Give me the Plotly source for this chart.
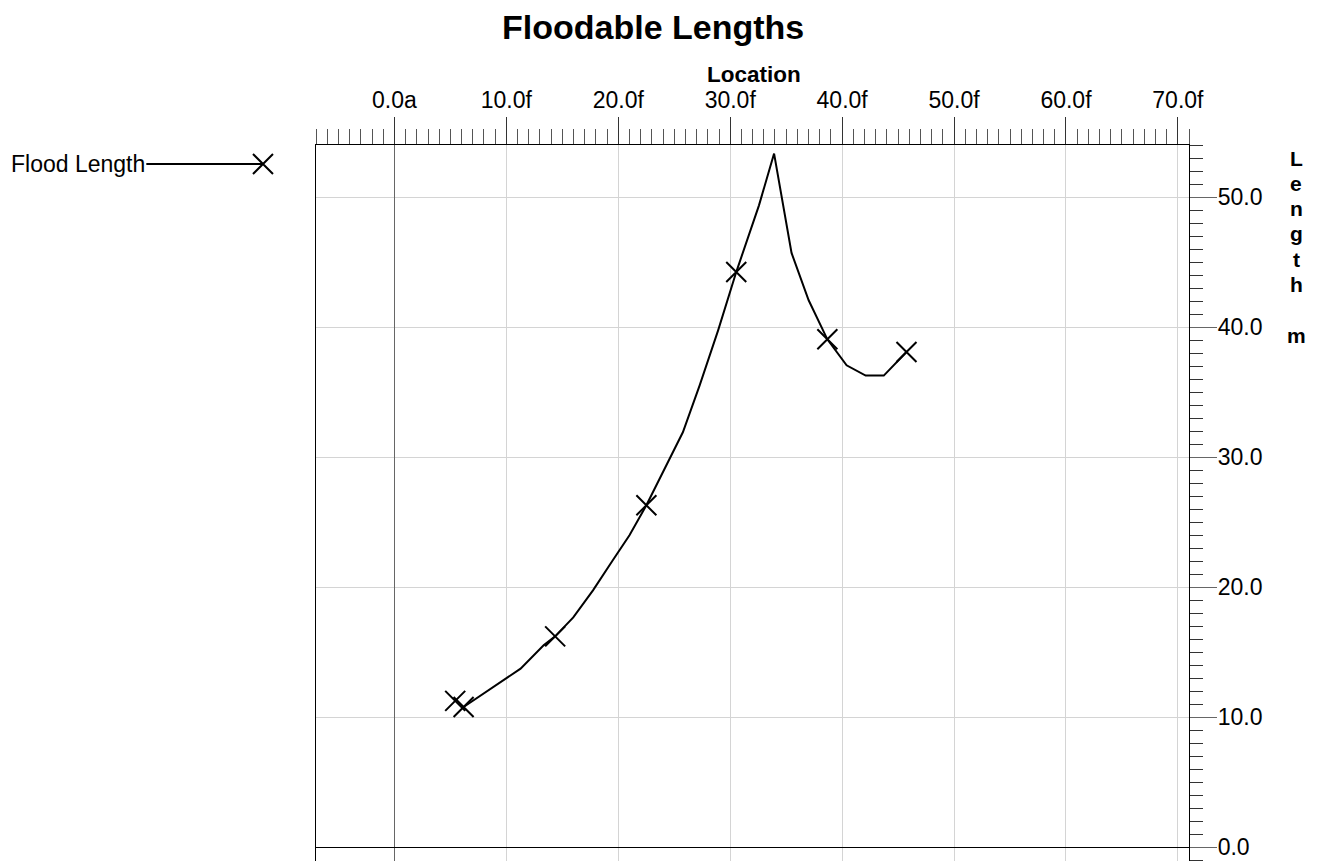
import plotly.graph_objects as go

W, H = 1326, 861

# Floodable length curve: location along the hull vs. floodable length (m)
curve_loc = [6.18, 7.74, 9.95, 11.27, 13.33, 14.36, 15.98, 17.74, 19.51, 21.00,
             22.51, 24.10, 25.77, 27.27, 28.92, 30.54, 32.57, 33.92, 35.48, 37.01,
             38.68, 40.40, 42.10, 43.72, 45.75]
curve_len = [10.79, 11.69, 12.97, 13.74, 15.53, 16.22, 17.68, 19.76, 22.07, 23.99,
             26.30, 28.99, 31.91, 35.52, 39.75, 44.23, 49.36, 53.34, 45.70, 42.06,
             39.06, 37.06, 36.27, 36.27, 38.08]

# Marked stations on the curve
mark_loc = [5.43, 6.18, 14.36, 22.51, 30.54, 38.68, 45.75]
mark_len = [11.26, 10.79, 16.22, 26.30, 44.23, 39.06, 38.08]

# Location axis ticks
loc_ticks = [0, 10, 20, 30, 40, 50, 60, 70]
loc_labels = ["0.0a", "10.0f", "20.0f", "30.0f", "40.0f", "50.0f", "60.0f", "70.0f"]

series_name = "Flood Length"
title_text = "Floodable Lengths"
x_title = "Location"
y_title = "Length"
y_unit = "m"

FONT = "Arial, Liberation Sans, sans-serif"

# plot area in page pixels
PX0, PX1, PY0, PY1 = 319.7, 1202.7, 145.0, 861.0


def px(x):
    return x / W


def py(y):
    return 1 - y / H


fig = go.Figure()

fig.add_trace(go.Scatter(
    x=curve_loc, y=curve_len, mode="lines", name=series_name,
    line=dict(color="black", width=2), showlegend=False, hoverinfo="skip"))

fig.add_trace(go.Scatter(
    x=mark_loc, y=mark_len, mode="markers", name=series_name,
    marker=dict(symbol="x-thin", size=20, line=dict(color="black", width=2)),
    showlegend=False, cliponaxis=False))

# legend key: line with a cross at its right end, drawn on a page-pixel overlay axis
fig.add_trace(go.Scatter(
    x=[148, 266], y=[164, 164], mode="lines", line=dict(color="black", width=2),
    xaxis="x2", yaxis="y2", showlegend=False, hoverinfo="skip"))
fig.add_trace(go.Scatter(
    x=[266], y=[164], mode="markers", xaxis="x2", yaxis="y2",
    marker=dict(symbol="x-thin", size=20, line=dict(color="black", width=2)),
    showlegend=False, cliponaxis=False, hoverinfo="skip"))

annotations = [
    dict(text=f"<b>{title_text}</b>", x=px(660), y=py(27), xref="paper", yref="paper",
         showarrow=False, font=dict(family=FONT, size=34, color="black"),
         xanchor="center", yanchor="middle"),
    dict(text=f"<b>{x_title}</b>", x=px(763), y=py(75), xref="paper", yref="paper",
         showarrow=False, font=dict(family=FONT, size=22.5, color="black"),
         xanchor="center", yanchor="middle"),
    dict(text=series_name, x=px(9), y=py(164), xref="paper", yref="paper",
         showarrow=False, font=dict(family=FONT, size=23, color="black"),
         xanchor="left", yanchor="middle"),
]

# vertical axis title, one letter per row, blank row before the unit
letters = list(y_title) + [""] + list(y_unit)
for i, ch in enumerate(letters):
    if not ch:
        continue
    annotations.append(dict(
        text=f"<b>{ch}</b>", x=px(1311), y=py(158 + 25.3 * i), xref="paper", yref="paper",
        showarrow=False, font=dict(family=FONT, size=21, color="black"),
        xanchor="center", yanchor="middle"))

fig.update_layout(
    width=W, height=H,
    margin=dict(l=0, r=0, t=0, b=0, pad=0),
    paper_bgcolor="white", plot_bgcolor="rgba(0,0,0,0)",
    font=dict(family=FONT, size=23, color="black"),
    annotations=annotations,
    xaxis=dict(
        domain=[PX0 / W, PX1 / W], range=[-7, 71], side="top", anchor="y",
        tickmode="array", tickvals=loc_ticks, ticktext=loc_labels,
        ticks="outside", ticklen=27, tickwidth=1, tickcolor="#333",
        tickfont=dict(family=FONT, size=23, color="black"),
        minor=dict(dtick=1, tick0=0, ticks="outside", ticklen=15, tickwidth=1,
                   tickcolor="#555", showgrid=False),
        showline=True, linecolor="black", linewidth=1, mirror=False,
        showgrid=True, gridcolor="#d4d4d4", gridwidth=1,
        zeroline=True, zerolinecolor="#666", zerolinewidth=1,
        fixedrange=True,
    ),
    yaxis=dict(
        domain=[0, (H - PY0) / H], range=[-1.05, 54], side="right", anchor="x",
        tickmode="linear", tick0=0, dtick=10, tickformat=".1f",
        ticks="outside", ticklen=27, tickwidth=1, tickcolor="#666",
        ticklabelstandoff=-4,
        tickfont=dict(family=FONT, size=23, color="black"),
        minor=dict(dtick=1, tick0=0, ticks="outside", ticklen=13, tickwidth=1,
                   tickcolor="#333", showgrid=False),
        showline=True, linecolor="black", linewidth=1, mirror=True,
        showgrid=True, gridcolor="#d4d4d4", gridwidth=1,
        zeroline=True, zerolinecolor="black", zerolinewidth=1,
        fixedrange=True,
    ),
    xaxis2=dict(domain=[0, 1], range=[0, W], anchor="y2", visible=False, fixedrange=True),
    yaxis2=dict(domain=[0, 1], range=[H, 0], anchor="x2", visible=False, fixedrange=True),
)

fig.write_html("out.html", config={"displayModeBar": False})
